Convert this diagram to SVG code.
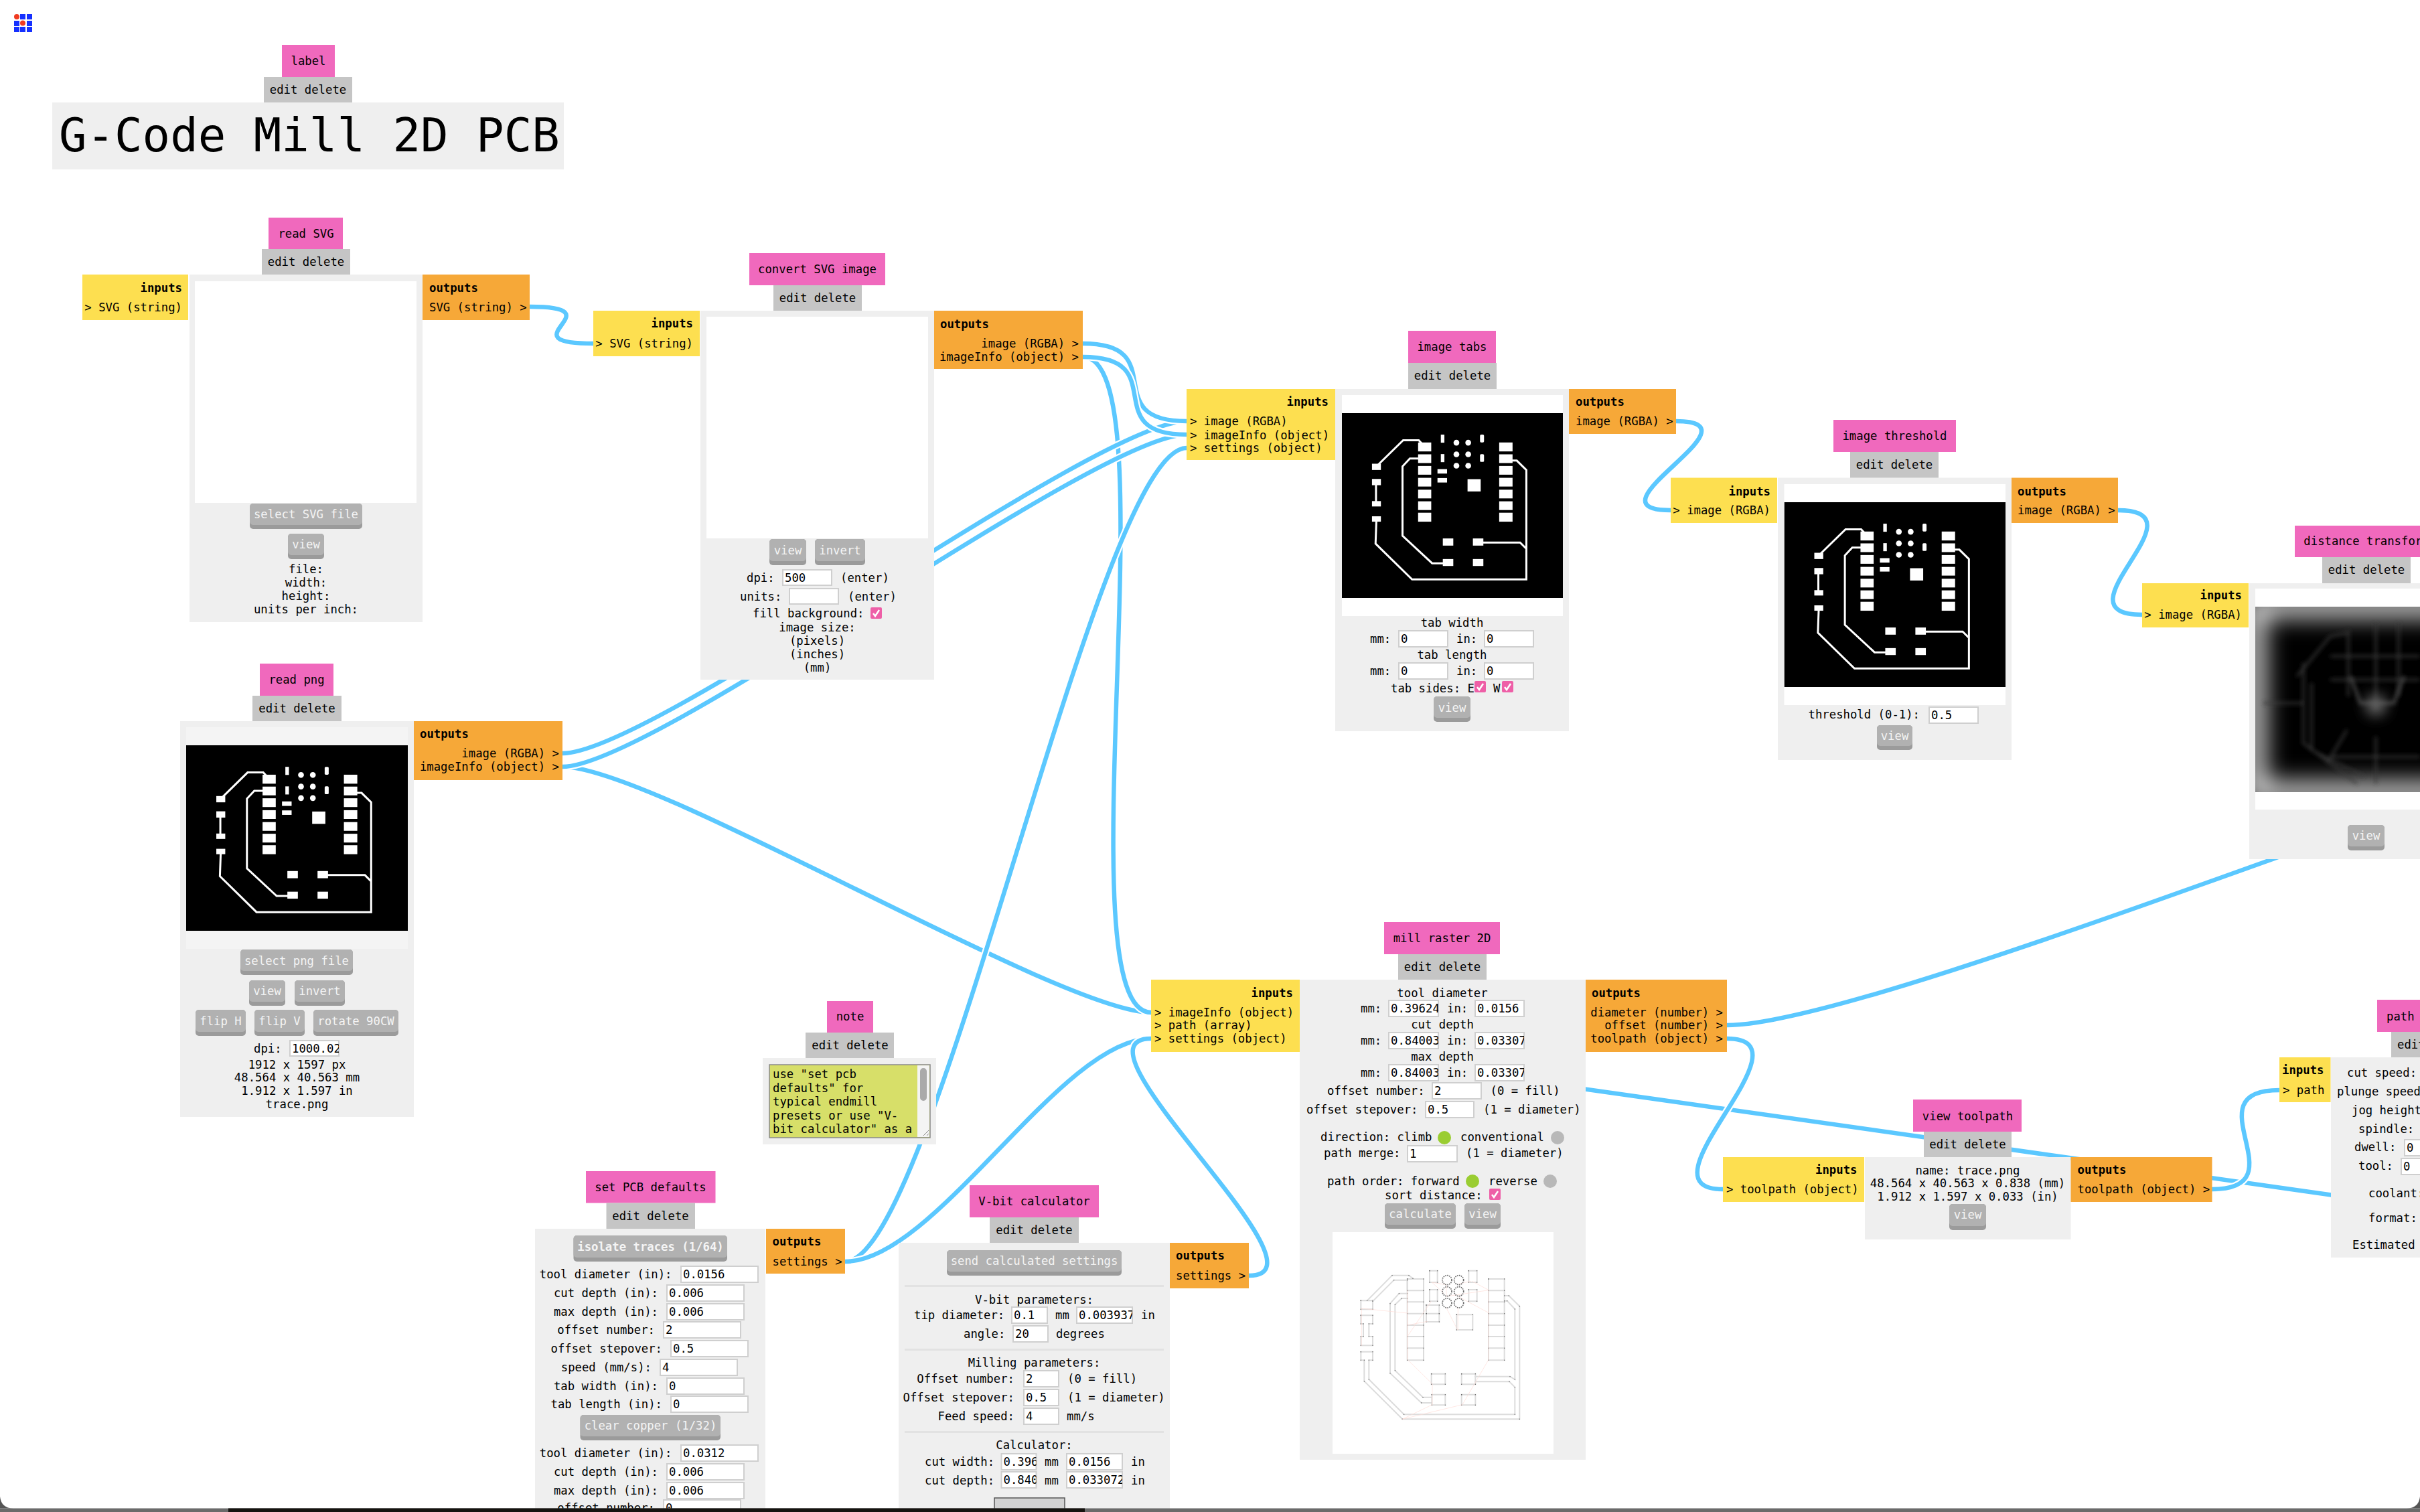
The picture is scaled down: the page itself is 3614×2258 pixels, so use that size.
<svg xmlns="http://www.w3.org/2000/svg" xmlns:xlink="http://www.w3.org/1999/xlink" width="3614" height="2258" viewBox="0 0 3614 2258">
<style>
text{font-family:"DejaVu Sans Mono","Liberation Mono",monospace;font-size:17.3px;fill:#000}
.m{text-anchor:middle}.e{text-anchor:end}.b{font-weight:bold}
.w{fill:#f4f4f4;text-anchor:middle}
.ti{fill:#f069bd}.ed{fill:#c5c5c5}.bd{fill:#efefef}.in{fill:#fddf50}.ou{fill:#f6a838}
.bb{fill:#9b9b9b}.bt{fill:#b1b1b1}
.ip{fill:#fff;stroke:#cfcfcf;stroke-width:2}
.ck{fill:#ee5fa7}.cm{fill:none;stroke:#fff;stroke-width:2.5}
.on{fill:#9acd32}.off{fill:#b8b8b8}
.hr{fill:#e2e2e2}
.h{fill:none;stroke:#fff;stroke-width:11}
.c{fill:none;stroke:#5bc8ff;stroke-width:6.5}
.pw{fill:#fff}.pt{fill:none;stroke:#fff;stroke-width:9}
.tp{fill:none;stroke:#dcdcdc;stroke-width:6;marker-start:url(#dot);marker-mid:url(#dot);marker-end:url(#dot)}
.tq{fill:none;stroke:#ffdcd6;stroke-width:2}
.tc{fill:none;stroke:#666;stroke-width:5;stroke-dasharray:5 4}
</style>
<defs>
<marker id="dot" markerUnits="userSpaceOnUse" markerWidth="8" markerHeight="8" refX="4" refY="4"><circle cx="4" cy="4" r="2.2" fill="#666"/></marker>
<filter id="b20" x="-30%" y="-30%" width="160%" height="160%"><feGaussianBlur stdDeviation="18"/></filter>
<filter id="b3" x="-30%" y="-30%" width="160%" height="160%"><feGaussianBlur stdDeviation="3"/></filter>
<filter id="b9" x="-100%" y="-100%" width="300%" height="300%"><feGaussianBlur stdDeviation="10"/></filter>
<clipPath id="dc"><rect x="3368" y="906" width="332" height="277"/></clipPath>
<symbol id="pcb" viewBox="25 42 992 826" preserveAspectRatio="none">
<rect x="25" y="42" width="992" height="826" fill="#000"/>
<path class="pt" d="M180 280L300 163H370L395 190M397 245H330L297 280V590L430 713H500M760 254H810L853 296V785H340L176 625L180 515M635 620H825L853 648M178 350V450"/>
<g class="pw">
<rect x="367" y="173" width="59" height="40"/><rect x="367" y="226" width="59" height="39"/><rect x="367" y="278" width="59" height="39"/><rect x="367" y="331" width="59" height="39"/><rect x="367" y="384" width="59" height="39"/><rect x="367" y="436" width="59" height="39"/><rect x="367" y="487" width="59" height="40"/>
<rect x="731" y="173" width="60" height="40"/><rect x="731" y="226" width="60" height="39"/><rect x="731" y="278" width="60" height="39"/><rect x="731" y="331" width="60" height="39"/><rect x="731" y="384" width="60" height="39"/><rect x="731" y="436" width="60" height="39"/><rect x="731" y="487" width="60" height="40"/>
<rect x="160" y="268" width="40" height="28"/><rect x="160" y="336" width="40" height="28"/><rect x="160" y="435" width="40" height="24"/><rect x="160" y="503" width="40" height="24"/>
<rect x="469" y="138" width="16" height="36"/><rect x="469" y="225" width="16" height="36"/><rect x="645" y="138" width="18" height="35" rx="5"/><rect x="645" y="225" width="18" height="35" rx="5"/>
<circle cx="539" cy="174" r="13"/><circle cx="592" cy="174" r="13"/><circle cx="539" cy="226" r="13"/><circle cx="592" cy="226" r="13"/><circle cx="539" cy="277" r="13"/><circle cx="592" cy="277" r="13"/>
<rect x="454" y="292" width="43" height="20"/><rect x="454" y="332" width="43" height="20"/>
<rect x="589" y="337" width="59" height="55"/>
<rect x="478" y="602" width="47" height="32"/><rect x="613" y="602" width="47" height="32"/><rect x="478" y="694" width="47" height="31"/><rect x="613" y="694" width="47" height="31"/>
</g>
</symbol>
<path id="w1" d="M791 458C926 458 751 513 886 513"/>
<path id="w2" d="M1617 513C1752 513 1637 629 1772 629"/>
<path id="w3" d="M1617 533C1752 533 1637 649 1772 649"/>
<path id="w4" d="M840 1125C975 1125 1637 629 1772 629"/>
<path id="w5" d="M840 1145C975 1145 1637 649 1772 649"/>
<path id="w6" d="M840 1145C975 1145 1584 1512 1719 1512"/>
<path id="w7" d="M1617 533C1752 533 1584 1512 1719 1512"/>
<path id="w8" d="M1262 1884C1397 1884 1637 669 1772 669"/>
<path id="w9" d="M1262 1884C1397 1884 1584 1551 1719 1551"/>
<path id="w10" d="M1865 1905C2000 1905 1584 1551 1719 1551"/>
<path id="w11" d="M2503 629C2638 629 2360 762 2495 762"/>
<path id="w12" d="M3163 762C3298 762 3064 918 3199 918"/>
<path id="w13" d="M2579 1531C2714 1531 3150 1370 3500 1245"/>
<path id="w14" d="M2300 1617L3520 1790"/>
<path id="w15" d="M2579 1551C2714 1551 2438 1776 2573 1776"/>
<path id="w16" d="M3303 1776C3438 1776 3269 1628 3404 1628"/>
</defs>
<rect width="3614" height="2258" fill="#fff"/>

<g id="connectors">
<use href="#w14" class="h"/><use href="#w14" class="c"/>
<use href="#w13" class="h"/><use href="#w13" class="c"/>
<use href="#w6" class="h"/><use href="#w6" class="c"/>
<use href="#w7" class="h"/><use href="#w7" class="c"/>
<use href="#w4" class="h"/><use href="#w4" class="c"/>
<use href="#w5" class="h"/><use href="#w5" class="c"/>
<use href="#w2" class="h"/><use href="#w2" class="c"/>
<use href="#w3" class="h"/><use href="#w3" class="c"/>
<use href="#w8" class="h"/><use href="#w8" class="c"/>
<use href="#w9" class="h"/><use href="#w9" class="c"/>
<use href="#w10" class="h"/><use href="#w10" class="c"/>
<use href="#w1" class="h"/><use href="#w1" class="c"/>
<use href="#w11" class="h"/><use href="#w11" class="c"/>
<use href="#w12" class="h"/><use href="#w12" class="c"/>
<use href="#w15" class="h"/><use href="#w15" class="c"/>
<use href="#w16" class="h"/><use href="#w16" class="c"/>
</g>

<g id="logo">
<g fill="#1530ff"><rect x="30" y="21" width="8" height="8"/><rect x="40" y="21" width="8" height="8"/><rect x="21" y="31" width="8" height="8"/><rect x="40" y="31" width="8" height="8"/><rect x="21" y="40" width="8" height="8"/><rect x="30" y="40" width="8" height="8"/><rect x="40" y="40" width="8" height="8"/></g>
<circle cx="25" cy="25" r="4" fill="#f03a20"/><circle cx="34" cy="34.500" r="4" fill="#f03a20"/>
</g>

<g id="node-label">
<rect class="ti" x="421" y="67" width="79" height="48"/><text class="m" x="460.500" y="97">label</text>
<rect class="ed" x="394" y="115" width="132" height="38"/><text class="m" x="460" y="140">edit delete</text>
<rect class="bd" x="78" y="153" width="764" height="100"/>
<text x="88" y="226" style="font-size:69px">G-Code Mill 2D PCB</text>
</g>

<g id="node-read-svg">
<rect class="bd" x="283" y="410" width="348" height="519"/>
<rect fill="#fff" x="291" y="420" width="331" height="331"/>
<rect class="ti" x="401" y="325" width="111" height="47"/><text class="m" x="457" y="355">read SVG</text>
<rect class="ed" x="391" y="372" width="132" height="38"/><text class="m" x="457" y="397">edit delete</text>
<rect class="in" x="123" y="410" width="158" height="68"/><text class="e b" x="272" y="436">inputs</text><text class="e" x="272" y="465">&gt; SVG (string)</text>
<rect class="ou" x="631" y="410" width="160" height="68"/><text class="b" x="641" y="436">outputs</text><text x="641" y="465">SVG (string) &gt;</text>
<rect class="bb" x="373" y="752" width="168" height="38" rx="5"/><rect class="bt" x="373" y="752" width="168" height="32" rx="5"/><text class="w" x="457" y="774">select SVG file</text>
<rect class="bb" x="430" y="797" width="54" height="38" rx="5"/><rect class="bt" x="430" y="797" width="54" height="32" rx="5"/><text class="w" x="457" y="819">view</text>
<text class="m" x="457" y="856">file:</text><text class="m" x="457" y="876">width:</text><text class="m" x="457" y="896">height:</text><text class="m" x="457" y="916">units per inch:</text>
</g>

<g id="node-convert-svg">
<rect class="bd" x="1046" y="464" width="349" height="551"/>
<rect fill="#fff" x="1055" y="473" width="331" height="331"/>
<rect class="ti" x="1119" y="378" width="203" height="48"/><text class="m" x="1220.500" y="408">convert SVG image</text>
<rect class="ed" x="1155" y="426" width="132" height="38"/><text class="m" x="1221" y="451">edit delete</text>
<rect class="in" x="886" y="464" width="159" height="68"/><text class="e b" x="1035" y="489">inputs</text><text class="e" x="1035" y="519">&gt; SVG (string)</text>
<rect class="ou" x="1395" y="464" width="222" height="87"/><text class="b" x="1404" y="490">outputs</text><text class="e" x="1611" y="519">image (RGBA) &gt;</text><text class="e" x="1611" y="539">imageInfo (object) &gt;</text>
<rect class="bb" x="1149" y="805" width="55" height="39" rx="5"/><rect class="bt" x="1149" y="805" width="55" height="33" rx="5"/><text class="w" x="1176.500" y="828">view</text>
<rect class="bb" x="1217" y="805" width="75" height="39" rx="5"/><rect class="bt" x="1217" y="805" width="75" height="33" rx="5"/><text class="w" x="1254.500" y="828">invert</text>
<text x="1115" y="869">dpi:</text><rect class="ip" x="1169" y="851" width="73" height="23"/><text x="1172" y="869">500</text><text x="1255" y="869">(enter)</text>
<text x="1105" y="897">units:</text><rect class="ip" x="1179" y="879" width="73" height="23"/><text x="1266" y="897">(enter)</text>
<text x="1124" y="922">fill background:</text><rect class="ck" x="1300" y="907" width="17" height="17" rx="2"/><path class="cm" d="M1304 916l3 4l6-9"/>
<text class="m" x="1220.500" y="943">image size:</text><text class="m" x="1220.500" y="963">(pixels)</text><text class="m" x="1220.500" y="983">(inches)</text><text class="m" x="1220.500" y="1003">(mm)</text>
</g>

<g id="node-read-png">
<rect class="bd" x="269" y="1077" width="349" height="591"/>
<rect fill="#f4f4f4" x="278" y="1086" width="331" height="331"/>
<use href="#pcb" x="278" y="1113" width="331" height="277"/>
<rect class="ti" x="388" y="991" width="110" height="48"/><text class="m" x="443" y="1021">read png</text>
<rect class="ed" x="377" y="1039" width="133" height="38"/><text class="m" x="443.500" y="1064">edit delete</text>
<rect class="ou" x="618" y="1077" width="222" height="88"/><text class="b" x="627" y="1102">outputs</text><text class="e" x="835" y="1131">image (RGBA) &gt;</text><text class="e" x="835" y="1151">imageInfo (object) &gt;</text>
<rect class="bb" x="359" y="1418" width="168" height="38" rx="5"/><rect class="bt" x="359" y="1418" width="168" height="32" rx="5"/><text class="w" x="443" y="1441">select png file</text>
<rect class="bb" x="372" y="1464" width="54" height="38" rx="5"/><rect class="bt" x="372" y="1464" width="54" height="32" rx="5"/><text class="w" x="399" y="1486">view</text>
<rect class="bb" x="440" y="1464" width="75" height="38" rx="5"/><rect class="bt" x="440" y="1464" width="75" height="32" rx="5"/><text class="w" x="477.500" y="1486">invert</text>
<rect class="bb" x="292" y="1508" width="75" height="39" rx="5"/><rect class="bt" x="292" y="1508" width="75" height="33" rx="5"/><text class="w" x="329.500" y="1531">flip H</text>
<rect class="bb" x="380" y="1508" width="75" height="39" rx="5"/><rect class="bt" x="380" y="1508" width="75" height="33" rx="5"/><text class="w" x="417.500" y="1531">flip V</text>
<rect class="bb" x="468" y="1508" width="127" height="39" rx="5"/><rect class="bt" x="468" y="1508" width="127" height="33" rx="5"/><text class="w" x="531.500" y="1531">rotate 90CW</text>
<text x="379" y="1572">dpi:</text><rect class="ip" x="433" y="1554" width="73" height="23"/><svg x="433" y="1554" width="73" height="23"><text x="3" y="18">1000.02</text></svg>
<text class="m" x="443.500" y="1596">1912 x 1597 px</text><text class="m" x="443.500" y="1615">48.564 x 40.563 mm</text><text class="m" x="443.500" y="1635">1.912 x 1.597 in</text><text class="m" x="443.500" y="1655">trace.png</text>
</g>

<g id="node-image-tabs">
<rect class="bd" x="1994" y="581" width="349" height="511"/>
<rect fill="#fff" x="2004" y="590" width="330" height="330"/>
<use href="#pcb" x="2004" y="617" width="330" height="276"/>
<rect class="ti" x="2103" y="494" width="131" height="48"/><text class="m" x="2168.500" y="524">image tabs</text>
<rect class="ed" x="2103" y="542" width="132" height="39"/><text class="m" x="2169" y="567">edit delete</text>
<rect class="in" x="1772" y="581" width="222" height="106"/><text class="e b" x="1984" y="606">inputs</text><text x="1777" y="635">&gt; image (RGBA)</text><text x="1777" y="655.500">&gt; imageInfo (object)</text><text x="1777" y="675">&gt; settings (object)</text>
<rect class="ou" x="2343" y="581" width="160" height="67"/><text class="b" x="2353" y="606">outputs</text><text x="2353" y="635">image (RGBA) &gt;</text>
<text class="m" x="2168.500" y="936">tab width</text>
<text x="2046" y="960">mm:</text><rect class="ip" x="2089" y="942" width="73" height="24"/><text x="2092" y="960">0</text><text x="2175" y="960">in:</text><rect class="ip" x="2217" y="942" width="73" height="24"/><text x="2220" y="960">0</text>
<text class="m" x="2168.500" y="984">tab length</text>
<text x="2046" y="1008">mm:</text><rect class="ip" x="2089" y="990" width="73" height="24"/><text x="2092" y="1008">0</text><text x="2175" y="1008">in:</text><rect class="ip" x="2217" y="990" width="73" height="24"/><text x="2220" y="1008">0</text>
<text x="2077" y="1034">tab sides: E</text><rect class="ck" x="2202" y="1017" width="17" height="17" rx="2"/><path class="cm" d="M2206 1026l3 4l6-9"/><text x="2230" y="1034">W</text><rect class="ck" x="2243" y="1017" width="17" height="17" rx="2"/><path class="cm" d="M2247 1026l3 4l6-9"/>
<rect class="bb" x="2141" y="1040" width="55" height="38" rx="5"/><rect class="bt" x="2141" y="1040" width="55" height="32" rx="5"/><text class="w" x="2168.500" y="1063">view</text>
</g>

<g id="node-image-threshold">
<rect class="bd" x="2655" y="713.500" width="349" height="421.500"/>
<rect fill="#fff" x="2664.500" y="723" width="330.500" height="330"/>
<use href="#pcb" x="2664.500" y="750" width="330.500" height="276"/>
<rect class="ti" x="2738" y="627" width="183" height="48"/><text class="m" x="2829.500" y="657">image threshold</text>
<rect class="ed" x="2763" y="675" width="132" height="38.500"/><text class="m" x="2829" y="700">edit delete</text>
<rect class="in" x="2495" y="713.500" width="159" height="67.500"/><text class="e b" x="2644" y="740">inputs</text><text class="e" x="2644" y="768">&gt; image (RGBA)</text>
<rect class="ou" x="3004" y="713.500" width="159" height="67.500"/><text class="b" x="3013" y="740">outputs</text><text x="3013" y="768">image (RGBA) &gt;</text>
<text class="e" x="2867" y="1073">threshold (0-1):</text><rect class="ip" x="2881" y="1056" width="73" height="24"/><text x="2884" y="1074">0.5</text>
<rect class="bb" x="2803" y="1083" width="53" height="37" rx="5"/><rect class="bt" x="2803" y="1083" width="53" height="31" rx="5"/><text class="w" x="2829.500" y="1105">view</text>
</g>

<g id="node-distance-transform">
<rect class="bd" x="3359" y="871" width="350" height="412"/>
<rect fill="#fff" x="3368" y="879" width="332" height="330"/>
<g clip-path="url(#dc)">
<rect x="3368" y="906" width="332" height="277" fill="#000"/>
<rect x="3368" y="906" width="332" height="277" fill="none" stroke="#fff" stroke-width="26" filter="url(#b20)"/>
<path d="M3430 1010L3480 950L3505 945M3452 1020V1120L3530 1160M3440 990V1110L3520 1170M3507 940V1040M3548 930V1060M3582 930V1040M3480 980H3614M3480 1015H3614M3380 1050H3440M3480 1130H3614M3548 1100V1170M3505 1090L3475 1140" fill="none" stroke="#3a3a3a" stroke-width="3" filter="url(#b3)"/>
<path d="M3510 1010L3525 1050H3575L3590 1010" fill="none" stroke="#4c4c4c" stroke-width="4" filter="url(#b3)"/>
<circle cx="3548" cy="1053" r="16" fill="#686868" filter="url(#b9)"/>
</g>
<rect class="ti" x="3427" y="785" width="214" height="47"/><text class="m" x="3534" y="814">distance transform</text>
<rect class="ed" x="3468" y="832" width="132" height="39"/><text class="m" x="3534" y="857">edit delete</text>
<rect class="in" x="3199" y="871" width="159" height="66"/><text class="e b" x="3348" y="895">inputs</text><text class="e" x="3348" y="924">&gt; image (RGBA)</text>
<rect class="bb" x="3506" y="1232" width="55" height="38" rx="5"/><rect class="bt" x="3506" y="1232" width="55" height="32" rx="5"/><text class="w" x="3533.500" y="1254">view</text>
</g>

<g id="node-note">
<rect class="bd" x="1139" y="1580" width="259" height="129"/>
<rect class="ti" x="1235" y="1495" width="69" height="47"/><text class="m" x="1269.500" y="1524">note</text>
<rect class="ed" x="1203" y="1542" width="132" height="38"/><text class="m" x="1269.500" y="1567">edit delete</text>
<rect x="1149" y="1590" width="240" height="109" fill="#d7df69" stroke="#8a8a8a" stroke-width="1.500"/>
<rect x="1370" y="1591" width="18" height="107" fill="#f4f4f4"/><rect x="1374" y="1595" width="10" height="49" rx="5" fill="#aaa"/>
<path d="M1379 1696l8-8M1384 1696l3-3" stroke="#888" stroke-width="1" fill="none"/>
<text x="1154" y="1610">use "set pcb</text><text x="1154" y="1631">defaults" for</text><text x="1154" y="1651">typical endmill</text><text x="1154" y="1672">presets or use "V-</text><text x="1154" y="1692">bit calculator" as a</text>
</g>

<g id="node-set-pcb-defaults">
<rect class="bd" x="799" y="1835" width="344" height="423"/>
<rect class="ti" x="875" y="1749" width="193.500" height="47.500"/><text class="m" x="971.500" y="1779">set PCB defaults</text>
<rect class="ed" x="905.500" y="1796.500" width="132.500" height="38.500"/><text class="m" x="971.500" y="1822">edit delete</text>
<rect class="ou" x="1144" y="1835" width="118" height="67"/><text class="b" x="1153.500" y="1860">outputs</text><text x="1153.500" y="1890">settings &gt;</text>
<rect class="bb" x="856.500" y="1845" width="229.500" height="39" rx="5"/><rect class="bt" x="856.500" y="1845" width="229.500" height="33" rx="5"/><text class="w b" x="971.500" y="1868">isolate traces (1/64)</text>
<text class="e" x="1003.500" y="1909">tool diameter (in):</text><rect class="ip" x="1017" y="1891" width="115" height="24"/><text x="1020" y="1909">0.0156</text>
<text class="e" x="983" y="1937">cut depth (in):</text><rect class="ip" x="996" y="1919" width="115" height="24"/><text x="999" y="1937">0.006</text>
<text class="e" x="983" y="1965">max depth (in):</text><rect class="ip" x="996" y="1947" width="115" height="24"/><text x="999" y="1965">0.006</text>
<text class="e" x="978" y="1992">offset number:</text><rect class="ip" x="991" y="1974" width="115" height="24"/><text x="994" y="1992">2</text>
<text class="e" x="989" y="2020">offset stepover:</text><rect class="ip" x="1002" y="2002" width="115" height="24"/><text x="1005" y="2020">0.5</text>
<text class="e" x="973" y="2048">speed (mm/s):</text><rect class="ip" x="986" y="2030" width="115" height="24"/><text x="989" y="2048">4</text>
<text class="e" x="983" y="2076">tab width (in):</text><rect class="ip" x="996" y="2058" width="115" height="24"/><text x="999" y="2076">0</text>
<text class="e" x="989" y="2103">tab length (in):</text><rect class="ip" x="1002" y="2085" width="115" height="24"/><text x="1005" y="2103">0</text>
<rect class="bb" x="866.500" y="2113" width="209.500" height="38" rx="5"/><rect class="bt" x="866.500" y="2113" width="209.500" height="32" rx="5"/><text class="w" x="971.500" y="2135">clear copper (1/32)</text>
<text class="e" x="1003.500" y="2176">tool diameter (in):</text><rect class="ip" x="1017" y="2158" width="115" height="24"/><text x="1020" y="2176">0.0312</text>
<text class="e" x="983" y="2204">cut depth (in):</text><rect class="ip" x="996" y="2186" width="115" height="24"/><text x="999" y="2204">0.006</text>
<text class="e" x="983" y="2232">max depth (in):</text><rect class="ip" x="996" y="2214" width="115" height="24"/><text x="999" y="2232">0.006</text>
<text class="e" x="978" y="2258">offset number:</text><rect class="ip" x="991" y="2240" width="115" height="24"/><text x="994" y="2258">0</text>
</g>

<g id="node-v-bit-calculator">
<rect class="bd" x="1342" y="1856" width="405" height="402"/>
<rect class="ti" x="1448" y="1770" width="193" height="48"/><text class="m" x="1544.500" y="1800">V-bit calculator</text>
<rect class="ed" x="1478" y="1818" width="133" height="38"/><text class="m" x="1544.500" y="1843">edit delete</text>
<rect class="ou" x="1747" y="1856" width="118" height="68"/><text class="b" x="1756" y="1881">outputs</text><text x="1756" y="1911">settings &gt;</text>
<rect class="bb" x="1414" y="1867" width="261" height="38" rx="5"/><rect class="bt" x="1414" y="1867" width="261" height="32" rx="5"/><text class="w" x="1544.500" y="1889">send calculated settings</text>
<rect class="hr" x="1351" y="1919" width="387" height="3"/><rect class="hr" x="1351" y="2014" width="387" height="3"/><rect class="hr" x="1351" y="2137" width="387" height="3"/>
<text class="m" x="1544.500" y="1947">V-bit parameters:</text>
<text x="1365" y="1970">tip diameter:</text><rect class="ip" x="1511" y="1952" width="53" height="24"/><text x="1514" y="1970">0.1</text><text x="1576" y="1970">mm</text><rect class="ip" x="1608" y="1952" width="83" height="24"/><svg x="1608" y="1952" width="83" height="24"><text x="3" y="18">0.003937</text></svg><text x="1704" y="1970">in</text>
<text x="1439" y="1998">angle:</text><rect class="ip" x="1513" y="1980" width="52" height="24"/><text x="1516" y="1998">20</text><text x="1577" y="1998">degrees</text>
<text class="m" x="1544.500" y="2041">Milling parameters:</text>
<text class="e" x="1515" y="2065">Offset number:</text><rect class="ip" x="1529" y="2047" width="52" height="24"/><text x="1532" y="2065">2</text><text x="1594" y="2065">(0 = fill)</text>
<text class="e" x="1515" y="2093">Offset stepover:</text><rect class="ip" x="1529" y="2075" width="52" height="24"/><text x="1532" y="2093">0.5</text><text x="1594" y="2093">(1 = diameter)</text>
<text class="e" x="1515" y="2121">Feed speed:</text><rect class="ip" x="1529" y="2103" width="52" height="24"/><text x="1532" y="2121">4</text><text x="1593" y="2121">mm/s</text>
<text class="m" x="1544.500" y="2164">Calculator:</text>
<text x="1381" y="2189">cut width:</text><rect class="ip" x="1495.500" y="2171" width="52" height="24"/><svg x="1495.500" y="2171" width="52" height="24"><text x="3" y="18">0.39624</text></svg><text x="1560" y="2189">mm</text><rect class="ip" x="1593" y="2171" width="83" height="24"/><text x="1596" y="2189">0.0156</text><text x="1689" y="2189">in</text>
<text x="1381" y="2217">cut depth:</text><rect class="ip" x="1495.500" y="2198" width="52" height="24"/><svg x="1495.500" y="2198" width="52" height="24"><text x="3" y="18">0.84003</text></svg><text x="1560" y="2217">mm</text><rect class="ip" x="1593" y="2198" width="83" height="24"/><svg x="1593" y="2198" width="83" height="24"><text x="3" y="18">0.033072</text></svg><text x="1689" y="2217">in</text>
<rect x="1485" y="2237" width="105" height="30" fill="#d2d2d2" stroke="#555" stroke-width="1.500"/>
</g>

<g id="node-mill-raster-2d">
<rect class="bd" x="1941" y="1463" width="427" height="717"/>
<rect class="ti" x="2067" y="1377" width="173" height="48"/><text class="m" x="2153.500" y="1407">mill raster 2D</text>
<rect class="ed" x="2088" y="1425" width="132" height="38"/><text class="m" x="2154" y="1450">edit delete</text>
<rect class="in" x="1719" y="1463" width="222" height="108"/><text class="e b" x="1931" y="1489">inputs</text><text x="1724" y="1518">&gt; imageInfo (object)</text><text x="1724" y="1537">&gt; path (array)</text><text x="1724" y="1557">&gt; settings (object)</text>
<rect class="ou" x="2368" y="1463" width="211" height="108"/><text class="b" x="2377" y="1489">outputs</text><text class="e" x="2573" y="1518">diameter (number) &gt;</text><text class="e" x="2573" y="1537">offset (number) &gt;</text><text class="e" x="2573" y="1557">toolpath (object) &gt;</text>
<text class="m" x="2154" y="1489">tool diameter</text>
<text x="2032" y="1512">mm:</text><rect class="ip" x="2074" y="1494" width="74" height="24"/><svg x="2074" y="1494" width="74" height="24"><text x="3" y="18">0.39624</text></svg><text x="2161" y="1512">in:</text><rect class="ip" x="2203" y="1494" width="73" height="24"/><text x="2206" y="1512">0.0156</text>
<text class="m" x="2154" y="1536">cut depth</text>
<text x="2032" y="1560">mm:</text><rect class="ip" x="2074" y="1542" width="74" height="24"/><svg x="2074" y="1542" width="74" height="24"><text x="3" y="18">0.840032</text></svg><text x="2161" y="1560">in:</text><rect class="ip" x="2203" y="1542" width="73" height="24"/><svg x="2203" y="1542" width="73" height="24"><text x="3" y="18">0.033072</text></svg>
<text class="m" x="2154" y="1584">max depth</text>
<text x="2032" y="1608">mm:</text><rect class="ip" x="2074" y="1590" width="74" height="24"/><svg x="2074" y="1590" width="74" height="24"><text x="3" y="18">0.840032</text></svg><text x="2161" y="1608">in:</text><rect class="ip" x="2203" y="1590" width="73" height="24"/><svg x="2203" y="1590" width="73" height="24"><text x="3" y="18">0.033072</text></svg>
<text x="1982" y="1635">offset number:</text><rect class="ip" x="2139" y="1617" width="73" height="24"/><text x="2142" y="1635">2</text><text x="2225.500" y="1635">(0 = fill)</text>
<text x="1951" y="1663">offset stepover:</text><rect class="ip" x="2129" y="1645" width="72" height="24"/><text x="2132" y="1663">0.5</text><text x="2215" y="1663">(1 = diameter)</text>
<text x="1972" y="1704">direction: climb</text><circle class="on" cx="2157" cy="1699" r="10"/><text x="2181" y="1704">conventional</text><circle class="off" cx="2326" cy="1699" r="10"/>
<text x="1977" y="1728">path merge:</text><rect class="ip" x="2102" y="1711" width="74" height="24"/><text x="2105" y="1729">1</text><text x="2189" y="1728">(1 = diameter)</text>
<text x="1982" y="1770">path order: forward</text><circle class="on" cx="2199" cy="1764" r="10"/><text x="2223" y="1770">reverse</text><circle class="off" cx="2315" cy="1764" r="10"/>
<text x="2068" y="1791">sort distance:</text><rect class="ck" x="2224" y="1775" width="17" height="17" rx="2"/><path class="cm" d="M2228 1784l3 4l6-9"/>
<rect class="bb" x="2068" y="1797" width="106" height="38" rx="5"/><rect class="bt" x="2068" y="1797" width="106" height="32" rx="5"/><text class="w" x="2121" y="1819">calculate</text>
<rect class="bb" x="2187" y="1797" width="54" height="38" rx="5"/><rect class="bt" x="2187" y="1797" width="54" height="32" rx="5"/><text class="w" x="2214" y="1819">view</text>
<rect x="1990" y="1840" width="330" height="331" fill="#fff"/>
<g transform="translate(1980 1830) scale(.33333)">
<path class="tp" d="M365 240H438V604H365ZM365 292H438M365 343H438M365 395H438M365 447H438M365 498H438M365 550H438"/>
<path class="tp" d="M729 240H800V604H729ZM729 292H800M729 343H800M729 395H800M729 447H800M729 498H800M729 550H800"/>
<path class="tp" d="M157 337H210V376H157ZM157 403H210V441H193V498H210V538H157V498H168V441H157ZM157 566H210V604H193V690L350 847H847V725L822 700H670M157 566V604H172V698L343 868H868V362L820 315H800M800 338H812L847 375V690L825 677H670"/>
<path class="tp" d="M185 337L297 224H372L390 238M210 340L305 245H365V292M365 305H328L288 350V662L428 795H475M365 327H340L310 355V650L435 770H475"/>
<path class="tp" d="M473 665H535V712H473ZM608 665H670V712H608ZM475 758H535V805H475ZM608 758H670V805H608ZM465 203H500V255H465ZM465 288H500V340H465ZM640 203H677V255H640ZM640 288H677V340H640ZM450 357H508V395H450ZM450 395H508V432H450ZM586 400H658V468H586Z"/>
<path class="tq" d="M160 372L365 393M365 447L455 430M365 498L472 340M475 255L540 266V318L730 290M475 255L530 305M592 318L730 392M540 370L590 468M592 368V468M655 250L730 290M596 262L650 250M365 290V600L477 710V803L343 868L612 803L730 600V290M160 372V540"/>
<circle class="tc" cx="543" cy="245" r="21"/><circle class="tc" cx="596" cy="245" r="21"/><circle class="tc" cx="543" cy="296" r="21"/><circle class="tc" cx="596" cy="296" r="21"/><circle class="tc" cx="543" cy="348" r="21"/><circle class="tc" cx="596" cy="348" r="21"/>
</g>
</g>

<g id="node-view-toolpath">
<rect class="bd" x="2785" y="1728" width="307.500" height="123"/>
<rect class="ti" x="2857" y="1642" width="162" height="48"/><text class="m" x="2938.500" y="1673">view toolpath</text>
<rect class="ed" x="2873" y="1690" width="131" height="38"/><text class="m" x="2938.500" y="1715">edit delete</text>
<rect class="in" x="2573" y="1728" width="211" height="67"/><text class="e b" x="2773.500" y="1753">inputs</text><text x="2578" y="1782">&gt; toolpath (object)</text>
<rect class="ou" x="3092.500" y="1728" width="211" height="67"/><text class="b" x="3102.500" y="1753">outputs</text><text x="3102.500" y="1782">toolpath (object) &gt;</text>
<text class="m" x="2938.500" y="1754">name: trace.png</text><text class="m" x="2938.500" y="1773">48.564 x 40.563 x 0.838 (mm)</text><text class="m" x="2938.500" y="1793">1.912 x 1.597 x 0.033 (in)</text>
<rect class="bb" x="2911" y="1798" width="55" height="39" rx="5"/><rect class="bt" x="2911" y="1798" width="55" height="33" rx="5"/><text class="w" x="2938.500" y="1820">view</text>
</g>

<g id="node-path">
<rect class="bd" x="3481" y="1579" width="160" height="299"/>
<rect class="ti" x="3550" y="1493" width="80" height="48"/><text x="3564" y="1524">path</text>
<rect class="ed" x="3571" y="1541" width="60" height="38"/><text x="3580" y="1566">edit delete</text>
<rect class="in" x="3404" y="1579" width="76.500" height="67"/><text class="e b" x="3470.500" y="1604">inputs</text><text x="3409" y="1634">&gt; path</text>
<text x="3505" y="1608">cut speed:</text><text x="3490" y="1636">plunge speed:</text><text x="3512" y="1664">jog height:</text><text x="3522" y="1692">spindle:</text>
<text x="3516" y="1719">dwell:</text><rect class="ip" x="3591" y="1702" width="60" height="24"/><text x="3594" y="1720">0</text>
<text x="3522" y="1747">tool:</text><rect class="ip" x="3586" y="1730" width="60" height="24"/><text x="3589" y="1748">0</text>
<text x="3537" y="1788">coolant:</text><text x="3537" y="1825">format:</text><text x="3513" y="1865">Estimated</text>
</g>

<g id="window-edge">
<rect x="0" y="2252.500" width="3614" height="5.500" fill="#6a6a6a"/>
<rect x="341" y="2252.500" width="1279" height="5.500" fill="#15130f"/>
<path d="M0 2235Q2 2252.500 20 2252.500H0ZM3614 2235Q3612 2252.500 3594 2252.500H3614Z" fill="#555"/>
</g>
</svg>
